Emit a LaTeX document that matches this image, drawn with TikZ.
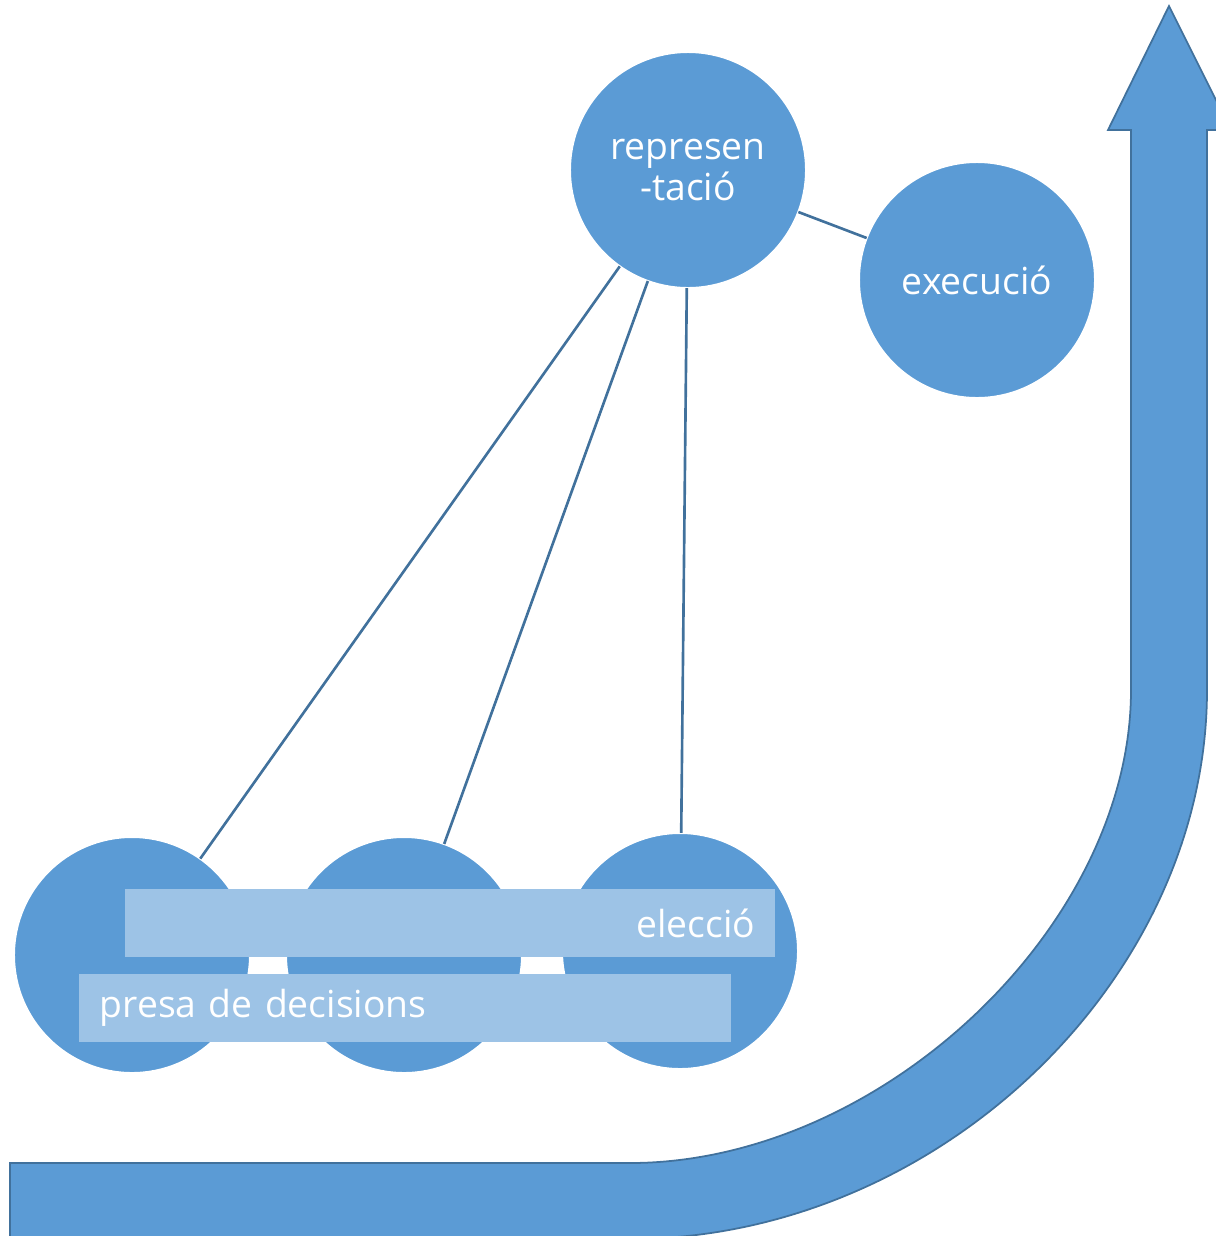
\documentclass[tikz,border=0pt]{standalone}
\usepackage{fontspec}
\setmainfont{Open Sans}
\definecolor{cblue}{HTML}{5B9BD5}
\definecolor{lblue}{HTML}{9DC3E6}
\definecolor{dblue}{HTML}{41719C}
\tikzset{
  bubble/.style={circle, fill=cblue, draw=white, line width=0.6pt, minimum size=2.36cm, inner sep=0pt, outer sep=0pt, text=white, align=center, font=\fontsize{10.6}{11.4}\selectfont},
  band/.style={rectangle, fill=lblue, draw=none, minimum height=0.68cm, inner ysep=0pt, text=white, font=\fontsize{10.6}{11.4}\selectfont},
  link/.style={draw=dblue, line width=0.75pt},
  bigarrow/.style={fill=cblue, draw=dblue, line width=0.5pt, line join=miter}
}
\begin{document}
\begin{tikzpicture}[x=0.01cm, y=-0.01cm]
\useasboundingbox (0,0) rectangle (1216,1236);
\clip (0,0) rectangle (1216,1236);
% big curved arrow
\path[bigarrow] (10,1163) -- (630,1163)
  .. controls (880.5,1163) and (1131,926.5) .. (1131,690)
  -- (1131,130) -- (1108,130) -- (1169,6) -- (1231,130) -- (1207,130) -- (1207,690)
  .. controls (1207,981) and (935.8,1239) .. (630,1239)
  -- (10,1239) -- cycle;
% circles
\node[bubble] (rep) at (688,170) {represen\\-tació};
\node[bubble] (exe) at (977,280) {execució};
\node[bubble] (c1) at (132,955) {};
\node[bubble] (c2) at (404,955) {};
\node[bubble] (c3) at (680,951) {};
% connectors
\draw[link] (rep) -- (exe);
\draw[link] (rep) -- (c1);
\draw[link] (rep) -- (c2);
\draw[link] (rep) -- (c3);
% bands
\node[band, inner xsep=0.2cm, text width=6.1cm, align=right] (elec) at (450,923) {elecció};
\node[band, inner xsep=0.21cm, text width=6.1cm, align=left] (presa) at (405,1008) {presa de decisions};
\end{tikzpicture}
\end{document}
